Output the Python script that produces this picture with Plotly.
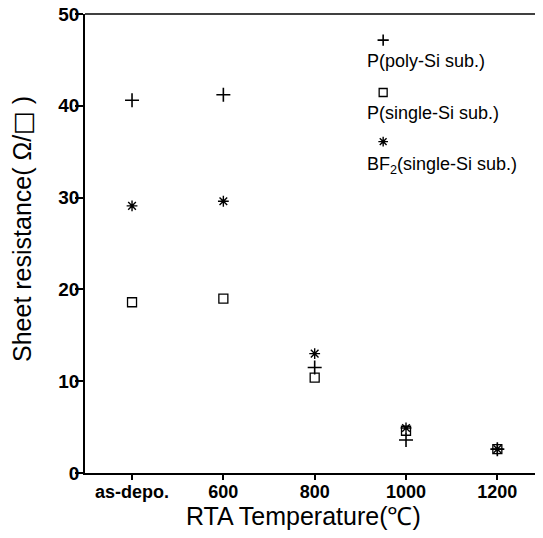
import plotly.graph_objects as go

categories = ["as-depo.", "600", "800", "1000", "1200"]
p_poly = [40.6, 41.2, 11.5, 3.6, 2.6]
p_single = [18.6, 19.0, 10.4, 4.6, 2.6]
bf2_single = [29.1, 29.6, 13.0, 4.9, 2.6]
y_ticks = [0, 10, 20, 30, 40, 50]

legend_labels = ["P(poly-Si sub.)", "P(single-Si sub.)", "BF<sub>2</sub>(single-Si sub.)"]

FONT = "Liberation Sans, Arial, sans-serif"
# page body has an 8px margin; compensate so the plot sits where the reference has it
W, H = 535, 530
L, R, T, B = 77, 0, 6, 65

xi = list(range(len(categories)))

fig = go.Figure()
series = [
    (p_poly, dict(symbol="cross-thin", size=10, color="black", line=dict(width=1.6, color="black"))),
    (p_single, dict(symbol="square-open", size=9, color="black", line=dict(width=1.3, color="black"))),
    (bf2_single, dict(symbol="asterisk-open", size=9, color="black", line=dict(width=1.4, color="black"))),
]
for vals, mk in series:
    fig.add_trace(go.Scatter(x=xi, y=vals, mode="markers", marker=mk, showlegend=False,
                             hoverinfo="skip"))

# custom legend (markers above text)
leg_mark_x = 0.651
leg_mark_y = [0.943, 0.829, 0.722]
leg_text_x = 0.612
leg_text_y = [0.898, 0.784, 0.671]
for (vals, mk), my in zip(series, leg_mark_y):
    m = dict(mk)
    m["size"] = 8
    fig.add_trace(go.Scatter(x=[leg_mark_x], y=[my], xaxis="x2", yaxis="y2", mode="markers",
                             marker=m, showlegend=False, hoverinfo="skip"))
for lab, ty in zip(legend_labels, leg_text_y):
    fig.add_annotation(x=leg_text_x, y=ty, xref="paper", yref="paper", text=lab,
                       showarrow=False, xanchor="left", yanchor="middle",
                       font=dict(family=FONT, size=18, color="black"))

fig.add_annotation(x=-0.135, y=0.532, xref="paper", yref="paper",
                   text="Sheet resistance( Ω/<span style=\"font-family:DejaVu Sans\">□</span> )",
                   textangle=-90, showarrow=False,
                   xanchor="center", yanchor="middle",
                   font=dict(family=FONT, size=25, color="black"))
fig.add_annotation(x=0.476, y=-0.093, xref="paper", yref="paper",
                   text="RTA Temperature(℃)", showarrow=False,
                   xanchor="center", yanchor="middle",
                   font=dict(family=FONT, size=25, color="black"))

fig.add_shape(type="line", xref="paper", yref="paper", x0=0, x1=1, y0=1, y1=1,
              line=dict(color="black", width=1.5))

fig.update_layout(
    width=W, height=H,
    margin=dict(l=L, r=R, t=T, b=B, autoexpand=False),
    paper_bgcolor="white", plot_bgcolor="white",
    showlegend=False,
    xaxis=dict(range=[-0.515, 4.5], tickmode="array", tickvals=xi, ticktext=categories,
               automargin=False,
               showgrid=False, zeroline=False, showline=True, linecolor="black", linewidth=1.5,
               ticks="outside", ticklen=5, tickwidth=1.5, tickcolor="black",
               ticklabelstandoff=-3,
               tickfont=dict(family=FONT, size=18, color="black", weight="bold")),
    yaxis=dict(range=[0, 50], tickmode="array", tickvals=y_ticks,
               automargin=False,
               showgrid=False, zeroline=False, showline=True, linecolor="black", linewidth=1.5,
               ticks="outside", ticklen=8, tickwidth=1.5, tickcolor="black",
               ticklabelstandoff=-8, ticklabeloverflow="allow",
               tickfont=dict(family=FONT, size=19, color="black", weight="bold")),
    xaxis2=dict(range=[0, 1], overlaying="x", visible=False),
    yaxis2=dict(range=[0, 1], overlaying="y", visible=False),
)

fig.write_html("out.html")
